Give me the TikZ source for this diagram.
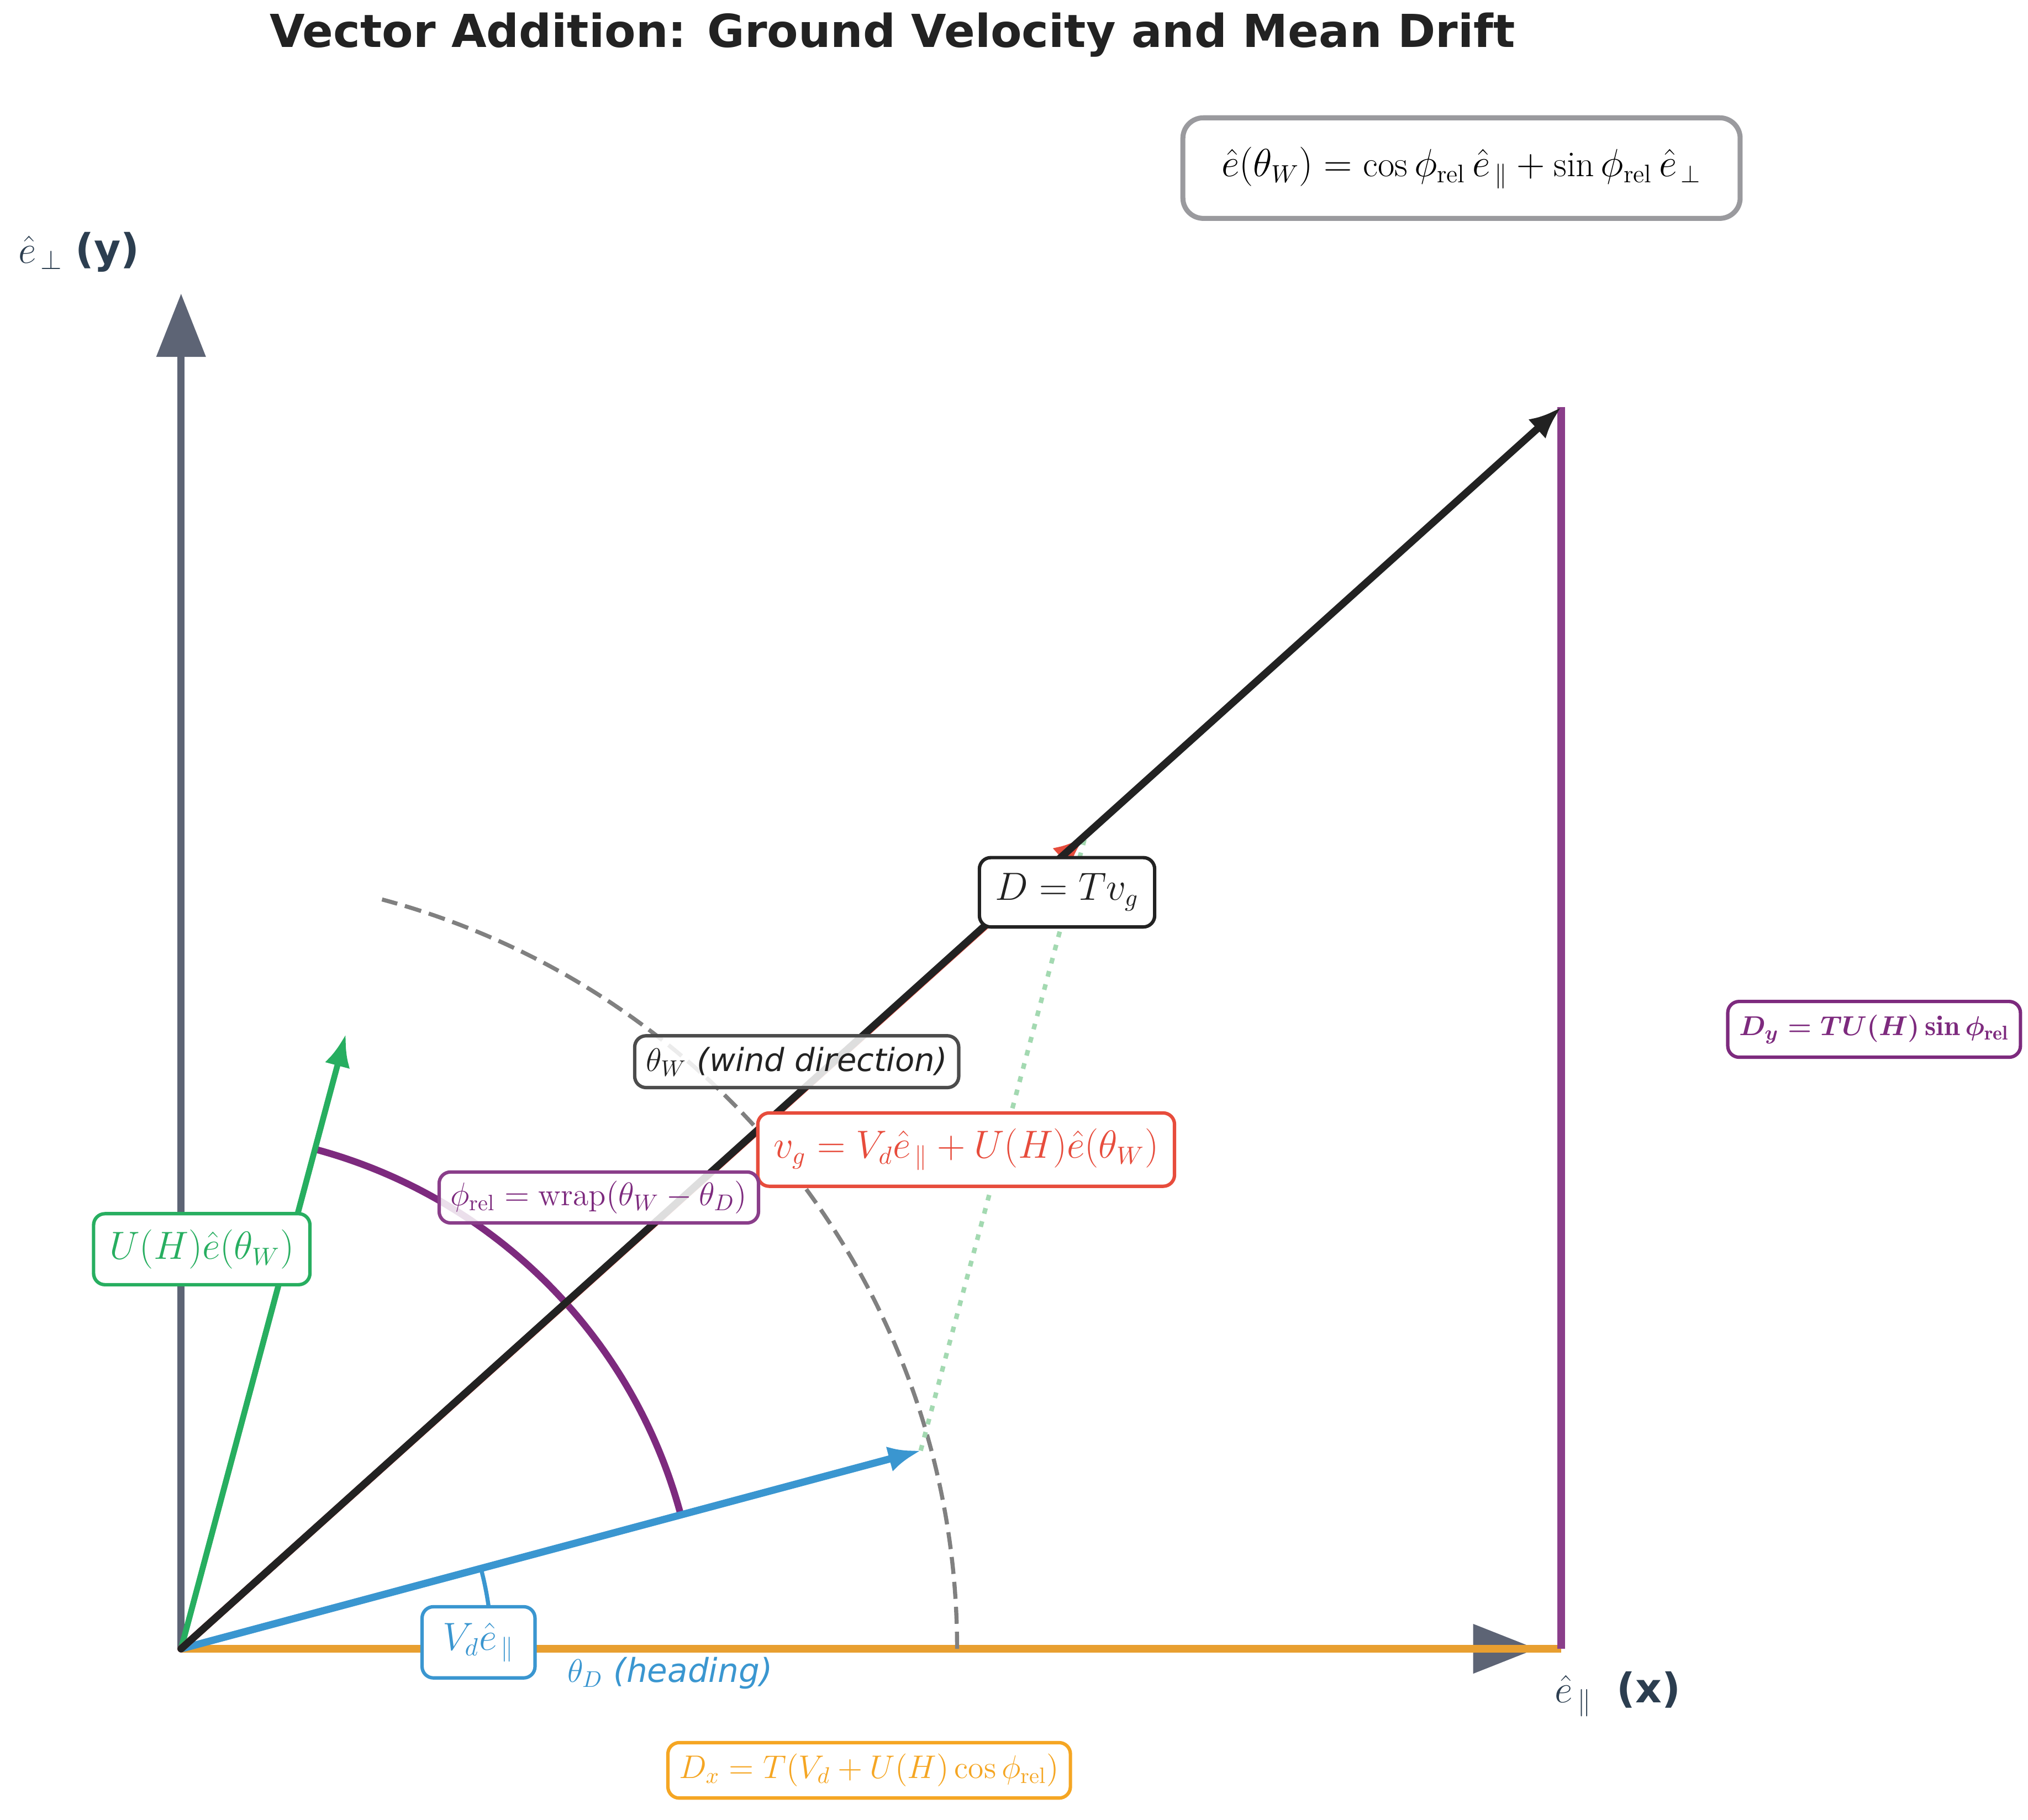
\documentclass[tikz,border=0pt]{standalone}
\usepackage{amsmath}
\usepackage{amssymb}
\usepackage{fontspec}
\usepackage{tikz}
\usepackage{xcolor}
\usetikzlibrary{arrows.meta,calc}
\newfontfamily\djsans{DejaVu Sans}
\definecolor{axisgray}{HTML}{5D6475}
\definecolor{labeldark}{HTML}{2C3E50}
\definecolor{vecblack}{HTML}{222222}
\definecolor{vecblue}{HTML}{3A96D0}
\definecolor{vecgreen}{HTML}{27AE60}
\definecolor{vecred}{HTML}{E74C3C}
\definecolor{relpurple}{HTML}{7D2A7E}
\definecolor{driftpurple}{HTML}{8A3E8A}
\definecolor{driftorange}{HTML}{E89F30}
\definecolor{boxorange}{HTML}{F5A623}
\definecolor{boxgray}{HTML}{9A9A9E}
\definecolor{dashgray}{HTML}{808080}
\definecolor{dotgreen}{HTML}{A3D9B1}
\tikzset{
    axis-line/.style = {draw=axisgray, line width=3.1pt, -{Triangle[length=0.98cm,width=0.74cm]}},
    vec-arrow/.style = {line width=3.2pt, line cap=round, -{Latex[length=0.5cm,width=0.4cm]}},
    big-box/.style = {draw, fill=white, line width=1.5pt, rounded corners=5pt, inner sep=7pt, font=\fontsize{16}{19}\selectfont},
    small-box/.style = {big-box, inner sep=5pt, font=\fontsize{14}{17}\selectfont},
    see-through/.style = {fill opacity=0.85, text opacity=1},
}

\begin{document}
\begin{tikzpicture}[x=0.02cm, y=0.02cm]
\useasboundingbox (-140,-132) rectangle (1428,1275);
\coordinate (O) at (0,0);
\coordinate (Vd) at (15:592);
\coordinate (vg) at ($(15:592)+(75:492)$);
\coordinate (D) at (1067,960);
\coordinate (Dx) at (1067,0);

\draw[axis-line] (O) -- (1048,0);
\draw[axis-line] (O) -- (0,1048);
\draw[driftorange, line width=3.4pt] (O) -- (Dx);
\draw[driftpurple, line width=3.4pt] (Dx) -- (D);
\draw[dashgray, line width=1.8pt, dash pattern=on 7.5pt off 3.5pt] (600,0) arc[start angle=0, end angle=75, radius=12cm];
\draw[relpurple, line width=3pt] (15:400) arc[start angle=15, end angle=75, radius=8cm];
\draw[vecblue, line width=1.8pt] (240,0) arc[start angle=0, end angle=15, radius=4.8cm];
\draw[dotgreen, line width=2pt, dash pattern=on 2.5pt off 3.5pt] (Vd) -- (vg);
\draw[vec-arrow, vecgreen, line width=2.6pt] (O) -- (75:492);
\draw[vec-arrow, vecblue] (O) -- (Vd);
\draw[vec-arrow, vecred] (O) -- (vg);
\draw[vec-arrow, vecblack] (O) -- (D);

\node[font=\djsans\bfseries\fontsize{20}{24}\selectfont, text=vecblack] (title) at (550,1248) {Vector Addition: Ground Velocity and Mean Drift};
\node[anchor=west, text=labeldark, font=\fontsize{18}{22}\selectfont] (ylabel) at (-132,1080) {$\hat{e}_{\,\perp}$\ {\djsans\bfseries (y)}};
\node[anchor=west, text=labeldark, font=\fontsize{18}{22}\selectfont] (xlabel) at (1056,-35) {$\hat{e}_{\,\parallel}$\ \ {\djsans\bfseries (x)}};

\node[big-box, draw=vecblack, text=vecblack] (Dlabel) at (685,585) {$D = Tv_g$};
\node[small-box, see-through, draw=black!70, text=vecblack] (thetaW) at (476,454) {$\theta_W$ {\djsans\itshape (wind direction)}};
\node[big-box, draw=vecred, text=vecred] (vglabel) at (607,386) {$v_g = V_d\hat{e}_{\,\parallel} + U(H)\hat{e}(\theta_W)$};
\node[small-box, see-through, draw=driftpurple, text=relpurple, inner ysep=4pt] (phirel) at (323,349) {$\phi_{\mathrm{rel}} = \mathrm{wrap}(\theta_W - \theta_D)$};
\node[big-box, draw=vecgreen, text=vecgreen] (Ulabel) at (16,309) {$U(H)\hat{e}(\theta_W)$};
\node[big-box, draw=vecblue, text=vecblue, inner xsep=9pt] (Vdlabel) at (230,5) {$V_d\hat{e}_{\,\parallel}$};
\node[text=vecblue, font=\fontsize{14.5}{17}\selectfont] (thetaD) at (378,-19) {$\theta_D$ {\djsans\itshape (heading)}};
\node[small-box, draw=boxorange, text=boxorange] (Dxlabel) at (532,-94) {$D_x = T(V_d + U(H)\cos\phi_{\mathrm{rel}})$};
\node[small-box, draw=relpurple, text=relpurple, inner ysep=6pt, font=\boldmath\fontsize{12.5}{15}\selectfont] (Dylabel) at (1309,479) {$D_y = TU(H)\sin\phi_{\mathrm{rel}}$};
\node[big-box, draw=boxgray, line width=2.2pt, rounded corners=9pt, inner xsep=17pt, inner ysep=13pt, font=\fontsize{16}{19}\selectfont] (ehat) at (990,1145) {$\hat{e}(\theta_W) = \cos\phi_{\mathrm{rel}}\,\hat{e}_{\,\parallel} + \sin\phi_{\mathrm{rel}}\,\hat{e}_{\,\perp}$};
\end{tikzpicture}
\end{document}
